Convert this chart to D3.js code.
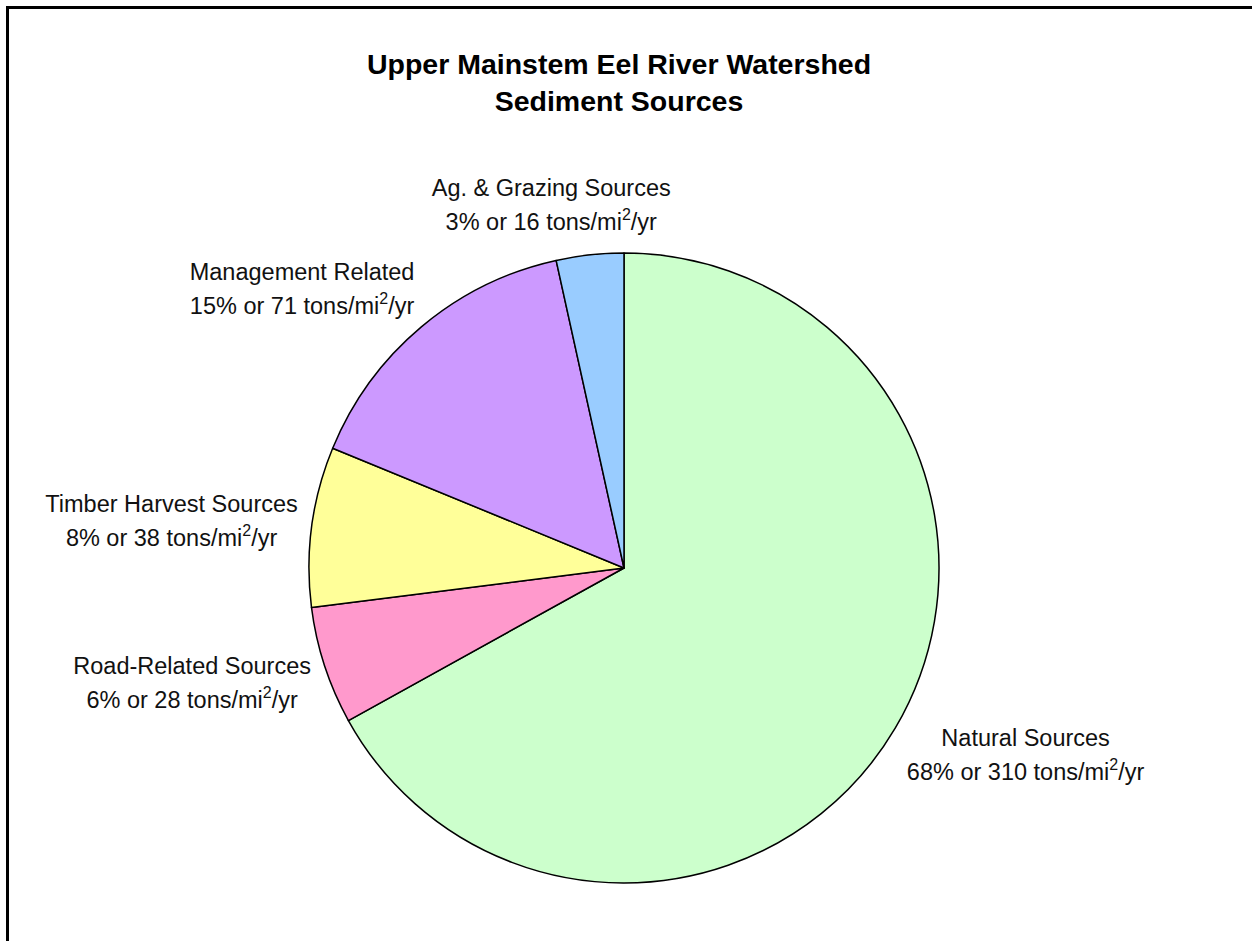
<!DOCTYPE html>
<html>
<head>
<meta charset="utf-8">
<script src="https://cdn.jsdelivr.net/npm/d3@7"></script>
<style>
  body { margin: 0; background: #fff; }
  svg { display: block; }
</style>
</head>
<body>
<div id="chart"></div>
<script>
// slices, clockwise from 12 o'clock
const categories = ["Natural Sources", "Road-Related Sources", "Timber Harvest Sources", "Management Related", "Ag. & Grazing Sources"];
const tons = [310, 28, 38, 71, 16];          // tons/mi2/yr
const percents = [68, 6, 8, 15, 3];          // as printed on the labels
const colors = ["#CCFFCC", "#FF99CC", "#FFFF99", "#CC99FF", "#99CCFF"];
const titleLines = ["Upper Mainstem Eel River Watershed", "Sediment Sources"];

const width = 1252, height = 941;
const cx = 624, cy = 568, radius = 315;

const svg = d3.select("#chart").append("svg")
  .attr("width", width)
  .attr("height", height)
  .style("font-family", "Arial, 'Liberation Sans', sans-serif");

// chart frame (runs off the right and bottom of the picture)
svg.append("rect")
  .attr("x", 7.5).attr("y", 7.5)
  .attr("width", width + 20).attr("height", height + 20)
  .attr("fill", "#fff")
  .attr("stroke", "#000")
  .attr("stroke-width", 3);

// title
svg.append("text")
  .attr("text-anchor", "middle")
  .style("font-size", "28.5px")
  .style("font-weight", "bold")
  .selectAll("tspan")
  .data(titleLines)
  .enter().append("tspan")
  .attr("x", 619)
  .attr("y", (d, i) => 74 + i * 37)
  .text(d => d);

const data = categories.map((c, i) => ({ name: c, value: tons[i], pct: percents[i], color: colors[i] }));

const pie = d3.pie()
  .sort(null)
  .value(d => d.value);

const arc = d3.arc()
  .innerRadius(0)
  .outerRadius(radius);

const g = svg.append("g").attr("transform", `translate(${cx},${cy})`);

const arcs = pie(data);

g.selectAll("path")
  .data(arcs)
  .enter().append("path")
  .attr("d", arc)
  .attr("fill", d => d.data.color)
  .attr("stroke", "#000")
  .attr("stroke-width", 1.5)
  .attr("stroke-linejoin", "round");

// labels outside the pie, box pushed away from the edge like excel does
const labelRadius = radius + 23;

const labels = g.selectAll(".label")
  .data(arcs)
  .enter().append("text")
  .attr("class", "label")
  .attr("text-anchor", "middle")
  .style("font-size", "23.5px")
  .style("fill", "#111");

labels.append("tspan").attr("class", "l1").text(d => d.data.name);

const l2 = labels.append("tspan").attr("class", "l2");
l2.append("tspan").text(d => `${d.data.pct}% or ${d.data.value} tons/mi`);
l2.append("tspan").attr("dy", -10).style("font-size", "16px").text("2");
l2.append("tspan").attr("dy", 10).text("/yr");

labels.each(function (d) {
  const t = d3.select(this);
  const w = Math.max(t.select(".l1").node().getComputedTextLength(),
    t.select(".l2").node().getComputedTextLength());
  const a = (d.startAngle + d.endAngle) / 2;
  const sx = Math.sin(a), cyv = -Math.cos(a);
  const fx = Math.max(-1, Math.min(1, 3 * sx)) * 0.93;
  const x = sx * labelRadius + fx * w / 2;
  const y = cyv * labelRadius + 9 + 28 * cyv;   // vertical centre of the two lines
  t.select(".l1").attr("x", x).attr("y", y - 17);
  t.select(".l2").attr("x", x).attr("y", y + 17);
});
</script>
</body>
</html>
